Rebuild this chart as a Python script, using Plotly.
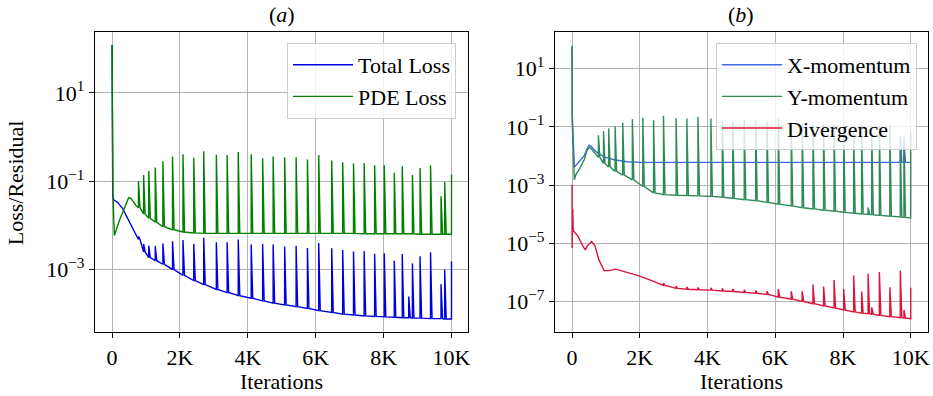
import plotly.graph_objects as go

# ---------------- data (iterations, log10 values) ----------------
# Panel (a): PDE loss
pde_knot_it = [0, 5, 25, 68, 215, 361, 488, 556, 703]
pde_knot_log = [2.08, -0.5, -1.3, -2.23, -1.89, -1.62, -1.37, -1.39, -1.55]
pde_spike_it = [778, 929, 1081, 1272, 1497, 1781, 2089, 2407, 2700, 3072, 3390, 3717, 4099, 4436, 4745,
                5084, 5422, 5755, 6088, 6471, 6794, 7113, 7426, 7735, 8019, 8314, 8549, 8848, 9073,
                9382, 9691, 9799, 10000]
pde_spike_base_log = [-1.60, -1.74, -1.84, -1.93, -2.03, -2.10, -2.15, -2.17, -2.18, -2.18, -2.18, -2.18,
                      -2.18, -2.18, -2.18, -2.18, -2.18, -2.18, -2.18, -2.18, -2.18, -2.18, -2.19, -2.19,
                      -2.19, -2.19, -2.19, -2.19, -2.20, -2.20, -2.20, -2.20, -2.20]
pde_spike_peak_log = [-1.00, -0.86, -0.77, -0.69, -0.55, -0.44, -0.39, -0.47, -0.32, -0.40, -0.41, -0.34,
                      -0.39, -0.48, -0.44, -0.46, -0.46, -0.51, -0.41, -0.53, -0.57, -0.60, -0.59, -0.64,
                      -0.64, -0.81, -0.66, -0.86, -0.70, -0.64, -1.34, -1.02, -0.85]

# Panel (a): Total loss
tot_knot_it = [0, 5, 20, 49, 166, 312, 459, 605, 700]
tot_knot_log = [2.08, -0.5, -1.35, -1.42, -1.48, -1.62, -1.85, -2.08, -2.22]
tot_spike_it = [778, 929, 1081, 1272, 1497, 1781, 2089, 2407, 2700, 3072, 3390, 3717, 4099, 4436, 4745,
                5084, 5422, 5755, 6088, 6471, 6794, 7113, 7426, 7735, 8019, 8314, 8549, 8740, 8848,
                9073, 9382, 9691, 9799, 10000]
tot_spike_base_log = [-2.32, -2.60, -2.73, -2.80, -2.88, -3.00, -3.13, -3.25, -3.34, -3.45, -3.52, -3.59,
                      -3.65, -3.71, -3.76, -3.80, -3.84, -3.88, -3.93, -3.97, -4.01, -4.03, -4.05, -4.06,
                      -4.07, -4.08, -4.09, -4.09, -4.10, -4.10, -4.11, -4.11, -4.12, -4.12]
tot_spike_peak_log = [-2.25, -2.42, -2.46, -2.47, -2.41, -2.36, -2.33, -2.42, -2.28, -2.38, -2.38, -2.32,
                      -2.43, -2.42, -2.43, -2.48, -2.46, -2.51, -2.40, -2.52, -2.56, -2.59, -2.58, -2.64,
                      -2.63, -2.80, -2.65, -3.61, -2.86, -2.70, -2.61, -3.33, -3.00, -2.82]

# Panel (b): X-momentum
xm_knot_it = [0, 4, 68, 120, 215, 300, 361, 430, 500, 556, 703, 947, 1240, 1630, 2000, 9600, 10000]
xm_knot_log = [1.78, -0.5, -2.39, -2.32, -2.22, -2.08, -1.99, -1.80, -1.63, -1.66, -1.85, -2.03, -2.13,
               -2.20, -2.22, -2.22, -2.22]
xm_spike_it = [9691, 9799]
xm_spike_base_log = [-2.22, -2.22]
xm_spike_peak_log = [-1.30, -1.45]

# Panel (b): Y-momentum
ym_knot_it = [0, 4, 68, 120, 215, 300, 361, 430, 500, 556, 703]
ym_knot_log = [1.78, -0.85, -2.82, -2.62, -2.45, -2.25, -2.12, -1.85, -1.70, -1.74, -1.96]
ym_spike_it = [778, 929, 1081, 1272, 1497, 1781, 2089, 2407, 2700, 3072, 3390, 3717, 4099, 4436, 4745,
               5084, 5422, 5755, 6088, 6471, 6794, 7113, 7426, 7735, 8019, 8314, 8549, 8740, 8848,
               9073, 9382, 9691, 9799, 10000]
ym_spike_base_log = [-2.05, -2.26, -2.38, -2.53, -2.66, -2.82, -3.05, -3.27, -3.33, -3.35, -3.36, -3.37,
                     -3.39, -3.42, -3.46, -3.50, -3.54, -3.60, -3.66, -3.72, -3.78, -3.82, -3.86, -3.90,
                     -3.94, -3.97, -3.99, -4.01, -4.02, -4.04, -4.07, -4.10, -4.11, -4.13]
ym_spike_peak_log = [-1.29, -1.14, -1.06, -0.99, -0.85, -0.74, -0.69, -0.77, -0.62, -0.70, -0.71, -0.65,
                     -0.71, -0.77, -0.79, -0.76, -0.76, -0.81, -0.71, -0.83, -0.87, -0.90, -0.89, -0.94,
                     -0.94, -1.11, -0.96, -3.77, -1.16, -1.00, -0.94, -1.64, -1.32, -1.15]

# Panel (b): Divergence
dv_knot_it = [0, 3, 20, 35, 166, 312, 390, 459, 576, 673, 800, 947, 1093, 1289, 1630, 2000, 2410]
dv_knot_log = [-2.99, -5.16, -3.82, -4.57, -4.74, -5.08, -5.23, -5.08, -4.94, -5.08, -5.59, -5.94, -5.94,
               -5.89, -6.00, -6.13, -6.31]
dv_spike_it = [2700, 3072, 3390, 3717, 4099, 4436, 4745, 5084, 5422, 5755, 6088, 6471, 6794, 7113, 7426,
               7735, 8019, 8314, 8549, 8740, 8848, 9073, 9382, 9691, 9799, 10000]
dv_spike_base_log = [-6.45, -6.55, -6.58, -6.60, -6.61, -6.64, -6.66, -6.69, -6.72, -6.76, -6.85, -6.92,
                     -7.00, -7.08, -7.15, -7.22, -7.30, -7.36, -7.40, -7.42, -7.44, -7.48, -7.52, -7.56,
                     -7.57, -7.59]
dv_spike_peak_log = [-6.37, -6.47, -6.50, -6.52, -6.53, -6.55, -6.57, -6.60, -6.62, -6.64, -6.58, -6.65,
                     -6.65, -6.42, -6.49, -6.26, -6.57, -6.11, -6.66, -6.05, -7.20, -5.99, -6.51, -5.94,
                     -7.29, -6.53]

x_tick_vals = [0, 2000, 4000, 6000, 8000, 10000]
x_tick_text = ["0", "2K", "4K", "6K", "8K", "10K"]
ya_tick_vals = [10, 0.1, 0.001]
ya_tick_text = ["10<sup>1</sup>", "10<sup>\u22121</sup>", "10<sup>\u22123</sup>"]
yb_tick_vals = [10, 0.1, 1e-3, 1e-5, 1e-7]
yb_tick_text = ["10<sup>1</sup>", "10<sup>\u22121</sup>", "10<sup>\u22123</sup>",
                "10<sup>\u22125</sup>", "10<sup>\u22127</sup>"]

LAST_IT = 10000
TAIL = 45


def build(knot_it, knot_log, sp_it, sp_base, sp_peak):
    events = [(x, 0, v, None) for x, v in zip(knot_it, knot_log)]
    events += [(x, 1, b, p) for x, b, p in zip(sp_it, sp_base, sp_peak)]
    events.sort(key=lambda e: e[0])
    xs, ys = [], []
    for x, kind, a, b in events:
        if kind == 0:
            xs.append(x); ys.append(10 ** a)
        else:
            xs += [x - 1, x]; ys += [10 ** a, 10 ** b]
            if x + TAIL <= LAST_IT:
                xs.append(x + TAIL); ys.append(10 ** a)
    return xs, ys


FONT = "Liberation Serif"
FS = 22

fig = go.Figure()
lw = 1.4
for name, color, args, xa, ya in [
    ("Total Loss", "#0000DD", (tot_knot_it, tot_knot_log, tot_spike_it, tot_spike_base_log, tot_spike_peak_log), "x", "y"),
    ("PDE Loss", "#008000", (pde_knot_it, pde_knot_log, pde_spike_it, pde_spike_base_log, pde_spike_peak_log), "x", "y"),
    ("X-momentum", "#4169E1", (xm_knot_it, xm_knot_log, xm_spike_it, xm_spike_base_log, xm_spike_peak_log), "x2", "y2"),
    ("Y-momentum", "#2E8B57", (ym_knot_it, ym_knot_log, ym_spike_it, ym_spike_base_log, ym_spike_peak_log), "x2", "y2"),
    ("Divergence", "#DC143C", (dv_knot_it, dv_knot_log, dv_spike_it, dv_spike_base_log, dv_spike_peak_log), "x2", "y2"),
]:
    xs, ys = build(*args)
    fig.add_trace(go.Scatter(x=xs, y=ys, mode="lines", name=name, line=dict(color=color, width=lw),
                             xaxis=xa, yaxis=ya, legend="legend" if xa == "x" else "legend2"))

W, H = 933, 396
def px(v): return v / W
def py(v): return 1 - v / H

axis_common = dict(showline=True, linecolor="black", linewidth=1.3, mirror=True,
                   showgrid=True, gridcolor="#b3b3b3", gridwidth=1.1,
                   ticks="outside", ticklen=5, tickwidth=1.2, tickcolor="black",
                   zeroline=False, tickfont=dict(family=FONT, size=FS, color="black"))

fig.update_layout(
    width=W, height=H, margin=dict(l=0, r=0, t=0, b=0),
    paper_bgcolor="white", plot_bgcolor="white",
    font=dict(family=FONT, size=FS, color="black"),
    xaxis=dict(domain=[px(95.3), px(469.5)], range=[-500, 10500], anchor="y",
               tickvals=x_tick_vals, ticktext=x_tick_text, **axis_common),
    yaxis=dict(domain=[py(332.3), py(32.3)], type="log", range=[-4.42, 2.37], anchor="x",
               tickvals=ya_tick_vals, ticktext=ya_tick_text, **axis_common),
    xaxis2=dict(domain=[px(556.3), px(929.7)], range=[-500, 10500], anchor="y2",
                tickvals=x_tick_vals, ticktext=x_tick_text, **axis_common),
    yaxis2=dict(domain=[py(332.3), py(32.3)], type="log", range=[-8.06, 2.25], anchor="x2",
                tickvals=yb_tick_vals, ticktext=yb_tick_text, **axis_common),
    legend=dict(x=px(457), y=py(43), xanchor="right", yanchor="top",
                bgcolor="rgba(255,255,255,0.8)", bordercolor="#cccccc", borderwidth=1,
                font=dict(family=FONT, size=FS), itemwidth=60, tracegroupgap=0),
    legend2=dict(x=px(919), y=py(43), xanchor="right", yanchor="top",
                 bgcolor="rgba(255,255,255,0.8)", bordercolor="#cccccc", borderwidth=1,
                 font=dict(family=FONT, size=FS), itemwidth=60, tracegroupgap=0),
    showlegend=True,
)

annots = [
    dict(text="(<i>a</i>)", x=px(282.4), y=py(15), xref="paper", yref="paper", showarrow=False,
         xanchor="center", yanchor="middle"),
    dict(text="(<i>b</i>)", x=px(743), y=py(15), xref="paper", yref="paper", showarrow=False,
         xanchor="center", yanchor="middle"),
    dict(text="Iterations", x=px(282.4), y=py(381), xref="paper", yref="paper", showarrow=False,
         xanchor="center", yanchor="middle"),
    dict(text="Iterations", x=px(743), y=py(381), xref="paper", yref="paper", showarrow=False,
         xanchor="center", yanchor="middle"),
    dict(text="Loss/Residual", x=px(15), y=py(182.3), xref="paper", yref="paper", showarrow=False,
         xanchor="center", yanchor="middle", textangle=-90),
]
for a in annots:
    a["font"] = dict(family=FONT, size=FS, color="black")
fig.update_layout(annotations=annots)

fig.write_html("out.html")
